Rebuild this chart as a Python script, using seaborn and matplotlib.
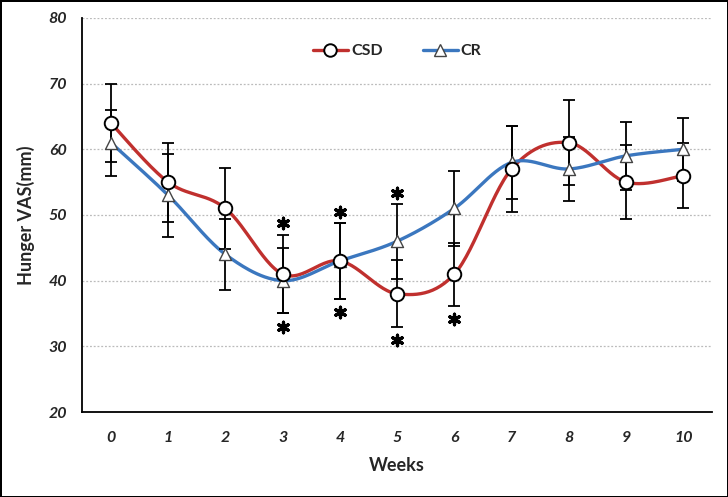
import numpy as np
import pandas as pd
import seaborn as sns
import matplotlib.pyplot as plt
from matplotlib.lines import Line2D

# ----------- Data ----------------------------------------

weeks = [0, 1, 2, 3, 4, 5, 6, 7, 8, 9, 10]
csd_mean = [64, 55, 51, 41, 43, 38, 41, 57, 61, 55, 56]
csd_err = [6, 6, 6.2, 6, 5.8, 5.1, 4.8, 6.5, 6.5, 5.6, 5]
cr_mean = [61, 53, 44, 40, 43, 46, 51, 58, 57, 59, 60]
cr_err = [5, 6.3, 5.4, 5, 5.8, 5.7, 5.7, 5.5, 4.9, 5.2, 4.8]
star_above = [3, 4, 5]
star_below = [3, 4, 5, 6]

red = "#C0302E"
blue = "#3B77BF"


def smooth(x, y, n=30):
    # Excel-style smoothed line (Catmull-Rom as cubic Bezier)
    p = np.column_stack([x, y]).astype(float)
    p = np.vstack([p[0], p, p[-1]])
    t = np.linspace(0, 1, n)[:, None]
    out = []
    for i in range(1, len(p) - 2):
        p0, p3 = p[i], p[i + 1]
        p1 = p0 + (p[i + 1] - p[i - 1]) / 6
        p2 = p3 - (p[i + 2] - p[i]) / 6
        seg = ((1 - t) ** 3) * p0 + 3 * ((1 - t) ** 2) * t * p1 + 3 * (1 - t) * t ** 2 * p2 + t ** 3 * p3
        out.append(seg)
    out = np.vstack(out)
    return out[:, 0], out[:, 1]


sns.set_style("white")
plt.rcParams['font.family'] = ['Lato', 'DejaVu Sans']

fig, ax = plt.subplots(figsize=(7.28, 4.97), dpi=100)
fig.subplots_adjust(left=0.113, right=0.978, top=0.964, bottom=0.171)

for ys in range(30, 90, 10):
    ax.axhline(ys, color="#BBBBBB", lw=0.9, ls=(0, (1.5, 1.5)), zorder=0)

# smooth lines
for mean, col in [(csd_mean, red), (cr_mean, blue)]:
    sx, sy = smooth(weeks, mean)
    df = pd.DataFrame({"x": sx, "y": sy})
    sns.lineplot(data=df, x="x", y="y", sort=False, estimator=None,
                 color=col, lw=2.4, ax=ax, zorder=2)

# error bars
ax.errorbar(weeks, csd_mean, yerr=csd_err, fmt="none", ecolor="black",
            elinewidth=1.3, capsize=4.3, capthick=1.3, zorder=3)
ax.errorbar(weeks, cr_mean, yerr=cr_err, fmt="none", ecolor="black",
            elinewidth=1.3, capsize=4.3, capthick=1.3, zorder=3)

# markers
sns.scatterplot(x=weeks, y=cr_mean, marker="^", s=75, color="white",
                edgecolor="#444444", linewidth=1.0, ax=ax, zorder=4)
sns.scatterplot(x=weeks, y=csd_mean, marker="o", s=95, color="white",
                edgecolor="black", linewidth=1.4, ax=ax, zorder=5)

# significance asterisks
top_y = [max(csd_mean[w] + csd_err[w], cr_mean[w] + cr_err[w]) + 1.7 for w in star_above]
low_y = [min(csd_mean[w] - csd_err[w], cr_mean[w] - cr_err[w]) - 2.0 for w in star_below]
ax.scatter(star_above + star_below, top_y + low_y, marker=(6, 2, 0), s=58,
           color="black", linewidths=2.3, zorder=5)

ax.set_xlim(-0.5, 10.5)
ax.set_ylim(20, 80)
ax.set_yticks(range(20, 90, 10))
ax.set_xticks(weeks)
ax.set_xticks(np.arange(-0.5, 11, 1), minor=True)
ax.tick_params(axis="x", which="major", length=0, pad=14)
ax.tick_params(axis="x", which="minor", length=5, width=1.2, direction="out", color="black")
ax.tick_params(axis="y", length=5, width=1.2, direction="out", color="black", pad=6)
for lab in ax.get_xticklabels() + ax.get_yticklabels():
    lab.set_fontstyle("italic")
    lab.set_fontweight("bold")
    lab.set_fontsize(11.5)

sns.despine(ax=ax)
for sp in ["left", "bottom"]:
    ax.spines[sp].set_color("black")
    ax.spines[sp].set_linewidth(1.3)

ax.set_xlabel("Weeks", fontsize=13, fontweight="bold", labelpad=8)
ax.set_ylabel("Hunger VAS(mm)", fontsize=13, fontweight="bold", labelpad=10)

handles = [
    Line2D([], [], color=red, lw=2.4, marker="o", markersize=9,
           markerfacecolor="white", markeredgecolor="black", markeredgewidth=1.4),
    Line2D([], [], color=blue, lw=2.4, marker="^", markersize=9,
           markerfacecolor="white", markeredgecolor="#444444", markeredgewidth=1.0),
]
ax.legend(handles, ["CSD", "CR"], loc="center", bbox_to_anchor=(0.5, 0.915),
          ncol=2, frameon=False, handlelength=2.2, handletextpad=0.2,
          columnspacing=2.5, prop={"weight": "bold", "size": 11.5})

fig.patch.set_edgecolor("black")
fig.patch.set_linewidth(2)
fig.savefig("out.png", dpi=100, edgecolor=fig.get_edgecolor())
